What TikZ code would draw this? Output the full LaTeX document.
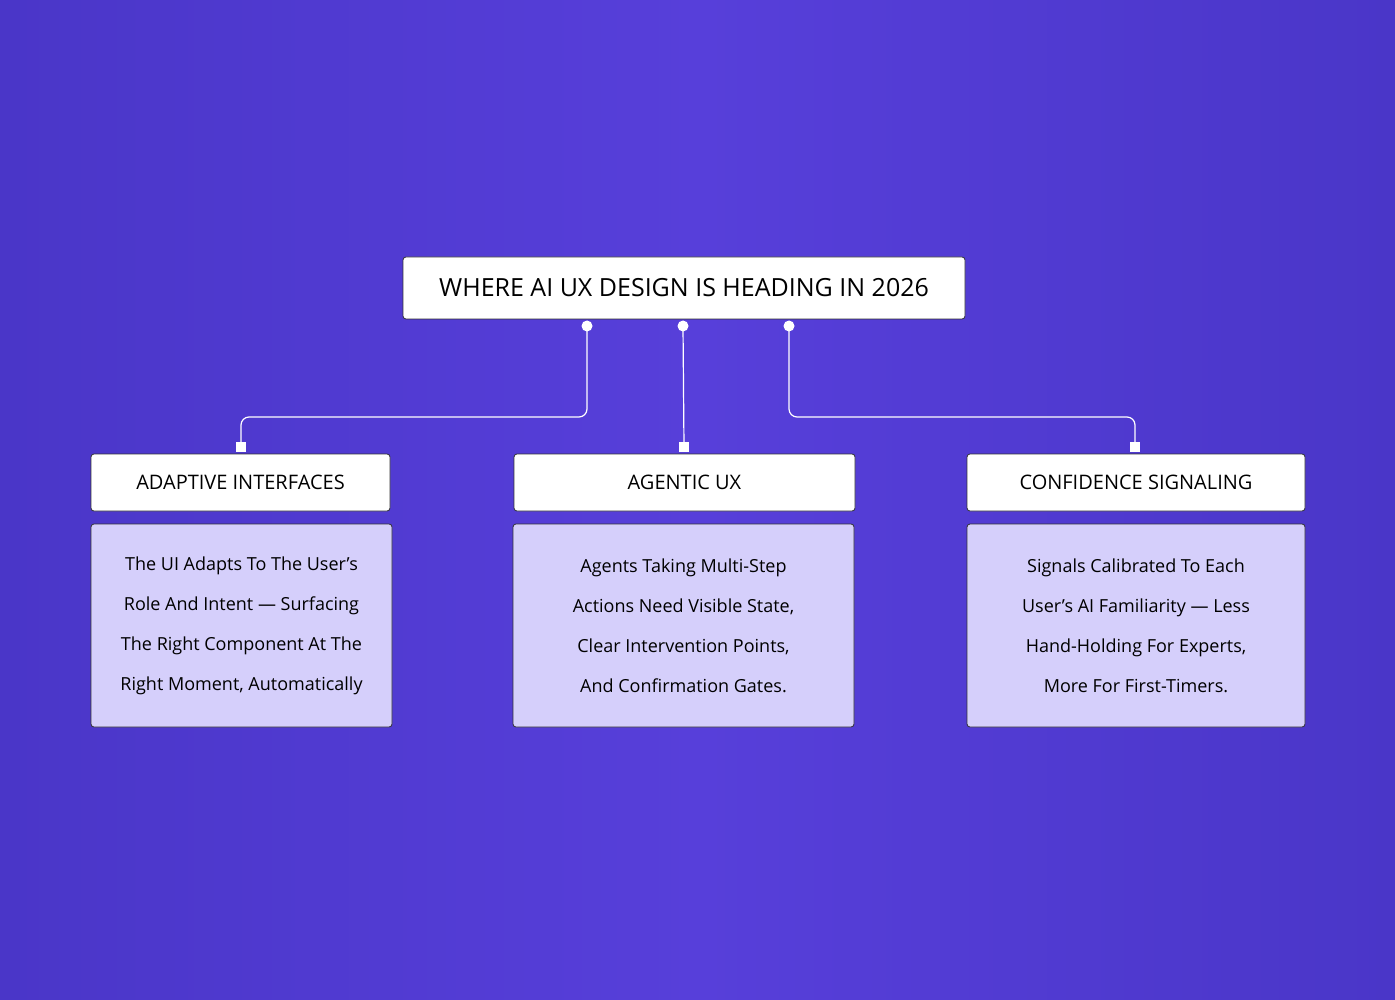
\documentclass[tikz,border=0pt]{standalone}
\usepackage{fontspec}
\setmainfont{Open Sans}
\begin{document}
\begin{tikzpicture}[x=1pt,y=-1pt,
  hdr/.style={draw=black!80,line width=0.8pt,fill=white,rounded corners=3pt,inner sep=0pt},
  body/.style={draw=black!80,line width=0.8pt,fill=violet!12!blue!8!white,rounded corners=3pt,inner sep=0pt},
  conn/.style={draw=white,line width=1.2pt,rounded corners=8pt},
  dotm/.style={circle,fill=white,inner sep=0pt,minimum size=11pt},
  sqm/.style={rectangle,fill=white,inner sep=0pt,minimum size=10pt}]
\definecolor{bgA}{HTML}{4A36C8}
\definecolor{bgB}{HTML}{573FDA}
\definecolor{bodyc}{HTML}{D5CFFB}
\shade[left color=bgA,right color=bgA,middle color=bgB] (0,0) rectangle (1395,1000);
\useasboundingbox (0,0) rectangle (1395,1000);
% title
\node[hdr,minimum width=562pt,minimum height=62pt] (t) at (684,288) {};
\node[font=\fontsize{25}{30}\selectfont] (tt) at (t.center) {WHERE AI UX DESIGN IS HEADING IN 2026};
% headers
\node[hdr,minimum width=299pt,minimum height=57pt] (h1) at (240.5,482.5) {};
\node[hdr,minimum width=341pt,minimum height=57pt] (h2) at (684.5,482.5) {};
\node[hdr,minimum width=338pt,minimum height=57pt] (h3) at (1136,482.5) {};
\node[font=\fontsize{20}{24}\selectfont] at (h1.center) {ADAPTIVE INTERFACES};
\node[font=\fontsize{20}{24}\selectfont] at (h2.center) {AGENTIC UX};
\node[font=\fontsize{20}{24}\selectfont] at (h3.center) {CONFIDENCE SIGNALING};
% bodies
\node[body,fill=bodyc,minimum width=301pt,minimum height=203pt] (b1) at (241.5,625.5) {};
\node[body,fill=bodyc,minimum width=341pt,minimum height=203pt] (b2) at (683.5,625.5) {};
\node[body,fill=bodyc,minimum width=338pt,minimum height=203pt] (b3) at (1136,625.5) {};
\node[font=\fontsize{18}{40}\selectfont,align=center] at (b1.center) {The UI Adapts To The User's\\Role And Intent — Surfacing\\The Right Component At The\\Right Moment, Automatically};
\node[font=\fontsize{18}{40}\selectfont,align=center] at (b2.center) {Agents Taking Multi-Step\\Actions Need Visible State,\\Clear Intervention Points,\\And Confirmation Gates.};
\node[font=\fontsize{18}{40}\selectfont,align=center] at (b3.center) {Signals Calibrated To Each\\User's AI Familiarity — Less\\Hand-Holding For Experts,\\More For First-Timers.};
% connectors
\node[dotm] (d1) at (587,326) {};
\node[dotm] (d2) at (683,326) {};
\node[dotm] (d3) at (789,326) {};
\node[sqm] (s1) at (241,447) {};
\node[sqm] (s2) at (684,447) {};
\node[sqm] (s3) at (1135,447) {};
\draw[conn] (d1.center) |- (400,417) -| (s1.center);
\draw[conn] (d2.center) -- (s2.center);
\draw[conn] (d3.center) |- (1000,417) -| (s3.center);
\end{tikzpicture}
\end{document}
